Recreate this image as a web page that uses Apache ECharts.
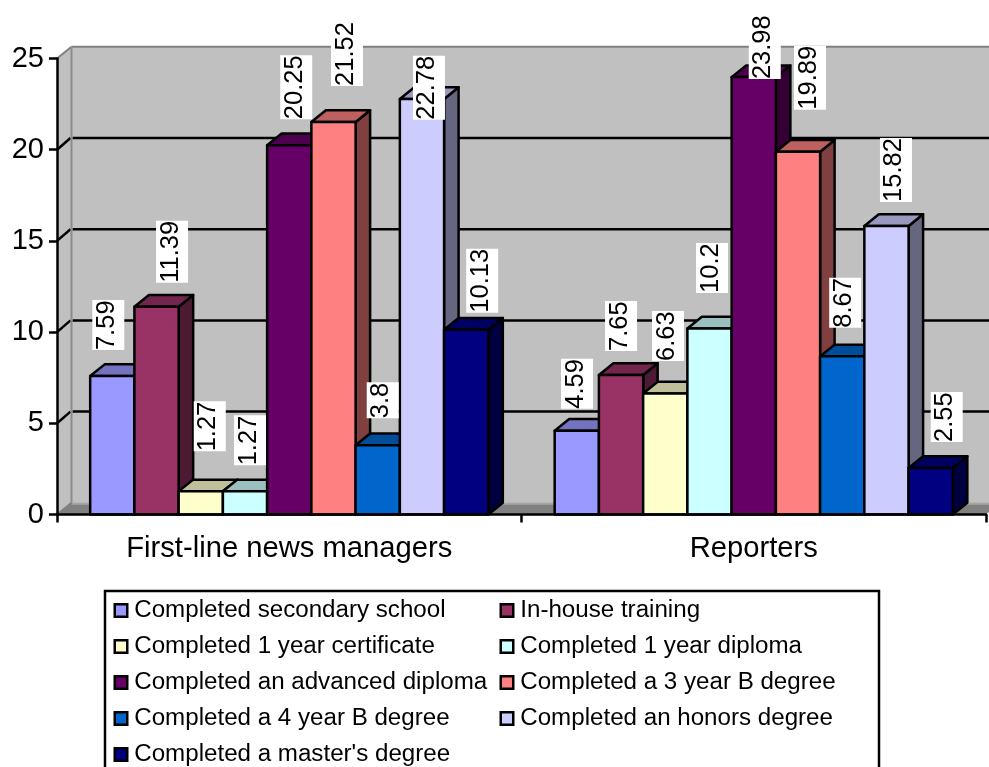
<!DOCTYPE html>
<html>
<head>
<meta charset="utf-8">
<style>html,body{margin:0;padding:0;background:#fff}#chart{width:989px;height:767px}</style>
<script src="https://cdn.jsdelivr.net/npm/echarts@6/dist/echarts.min.js"></script>
</head>
<body>
<div id="chart"></div>
<script>
// Qualification levels by newsroom role
const categories = ['First-line news managers', 'Reporters'];
const seriesNames = [
  'Completed secondary school', 'In-house training', 'Completed 1 year certificate',
  'Completed 1 year diploma', 'Completed an advanced diploma', 'Completed a 3 year B degree',
  'Completed a 4 year B degree', 'Completed an honors degree', "Completed a master's degree"
];
const firstLineManagers = [7.59, 11.39, 1.27, 1.27, 20.25, 21.52, 3.8, 22.78, 10.13];
const reporters = [4.59, 7.65, 6.63, 10.2, 23.98, 19.89, 8.67, 15.82, 2.55];
const valueTicks = [5, 10, 15, 20];

const seriesColors = ['#9999FF', '#993366', '#FFFFCC', '#CCFFFF', '#660066', '#FF8080', '#0066CC', '#CCCCFF', '#000080'];

// Hand-placed value labels: [shift right of the bar centre, lift above the bar's front top]
const labelPlacement = [
  [[-4, 26], [15.5, 24], [9, 40], [5, 26], [7, 26], [13.5, 36], [5, 27], [7, -20.7], [16, 17]],
  [[0.2, 22], [0, 24], [2.7, 32.6], [2.5, 35.5], [11, -2], [12, 42], [3, 28.7], [9.5, 24], [16, 26]]
];

const valuesByCategory = [firstLineManagers, reporters];
const FONT = '"Liberation Sans", Arial, sans-serif';
const LABEL_FONT = '25.5px ' + FONT;
const LABEL_BOX_WIDTH = 32;
const DEPTH_X = 14.5;
const DEPTH_Y = 11.7;
const GAP_RATIO = 1.5;   // gap between clusters, in bar widths
const INK = 2.5;         // weight of the black outlines, gridlines and axes

const measureCtx = document.createElement('canvas').getContext('2d');
function labelLength(text) {
  measureCtx.font = LABEL_FONT;
  return Math.ceil(measureCtx.measureText(text).width);
}

function shade(hex, f) {
  const n = parseInt(hex.slice(1), 16);
  const c = [n >> 16, (n >> 8) & 255, n & 255].map(v => Math.round(v * f));
  return 'rgb(' + c.join(',') + ')';
}

// Side wall, back wall and floor of the box
function renderBox(params, api) {
  const g = params.coordSys;
  const l = g.x, t = g.y, b = g.y + g.height, r = g.x + g.width;
  const bl = l + DEPTH_X, bt = t - DEPTH_Y, bb = b - DEPTH_Y, br = r + DEPTH_X;
  const edge = '#808080';
  return {
    type: 'group',
    children: [
      { type: 'rect', shape: { x: bl, y: bt, width: br - bl, height: bb - bt }, style: { fill: '#C0C0C0' } },
      { type: 'polygon', shape: { points: [[l, t], [bl, bt], [bl, bb], [l, b]] }, style: { fill: '#C0C0C0' } },
      { type: 'polygon', shape: { points: [[l, b], [bl, bb], [br, bb], [r, b]] }, style: { fill: '#808080' } },
      { type: 'line', shape: { x1: bl, y1: bb + 1, x2: br, y2: bb + 1 }, style: { stroke: '#A6A6A6', lineWidth: 2 } },
      { type: 'line', shape: { x1: bl, y1: bt, x2: br, y2: bt }, style: { stroke: edge, lineWidth: 2 } },
      { type: 'line', shape: { x1: l, y1: t, x2: bl, y2: bt }, style: { stroke: edge, lineWidth: 2 } },
      { type: 'line', shape: { x1: l, y1: b, x2: bl, y2: bb }, style: { stroke: edge, lineWidth: 2 } }
    ]
  };
}

// One gridline: a slanted stretch on the side wall, then straight across the back wall
function renderGridline(params, api) {
  const g = params.coordSys;
  const y = api.coord([0, api.value(0)])[1];
  const l = g.x, bl = l + DEPTH_X, br = g.x + g.width + DEPTH_X;
  const style = { stroke: '#000', lineWidth: INK };
  return {
    type: 'group',
    children: [
      { type: 'line', shape: { x1: l, y1: y, x2: bl - 1, y2: y - DEPTH_Y }, style },
      { type: 'line', shape: { x1: bl + 1, y1: y - DEPTH_Y, x2: br, y2: y - DEPTH_Y }, style }
    ]
  };
}

// The back-left corner post sits above the gridlines
function renderCorner(params, api) {
  const g = params.coordSys;
  const x = g.x + DEPTH_X;
  return {
    type: 'line',
    shape: { x1: x, y1: g.y - DEPTH_Y, x2: x, y2: g.y + g.height - DEPTH_Y },
    style: { stroke: '#8C8C8C', lineWidth: 2 }
  };
}

// A bar with front, top and side faces, plus its upright value label on a white plate
function makeBarRenderer(index) {
  const color = seriesColors[index];
  return function (params, api) {
    const k = api.value(0), v = api.value(1);
    const band = api.size([1, 0])[0];
    const bw = band / (seriesNames.length + GAP_RATIO);
    const x0 = api.coord([k, 0])[0] - band / 2 + bw * GAP_RATIO / 2 + index * bw;
    const x1 = x0 + bw;
    const yBase = api.coord([k, 0])[1];
    const yTop = api.coord([k, v])[1];
    const line = { stroke: '#000', lineWidth: INK, lineJoin: 'round' };
    const place = labelPlacement[k][index];
    const text = String(v);
    const plateLength = labelLength(text);
    const labelX = (x0 + x1) / 2 + place[0];
    const labelBottom = yTop - place[1];
    return {
      type: 'group',
      children: [
        { type: 'polygon',
          shape: { points: [[x1, yBase], [x1 + DEPTH_X, yBase - DEPTH_Y], [x1 + DEPTH_X, yTop - DEPTH_Y], [x1, yTop]] },
          style: Object.assign({ fill: shade(color, 0.5) }, line) },
        { type: 'polygon',
          shape: { points: [[x0, yTop], [x0 + DEPTH_X, yTop - DEPTH_Y], [x1 + DEPTH_X, yTop - DEPTH_Y], [x1, yTop]] },
          style: Object.assign({ fill: shade(color, 0.75) }, line) },
        { type: 'rect',
          shape: { x: x0, y: yTop, width: bw, height: yBase - yTop },
          style: Object.assign({ fill: color }, line) },
        { type: 'rect',
          z2: 100,
          shape: { x: labelX - LABEL_BOX_WIDTH / 2, y: labelBottom - plateLength, width: LABEL_BOX_WIDTH, height: plateLength },
          style: { fill: '#fff' } },
        { type: 'text',
          z2: 101,
          x: labelX - 1.5,
          y: labelBottom,
          rotation: Math.PI / 2,
          style: {
            text,
            font: LABEL_FONT,
            fill: '#000',
            align: 'left',
            verticalAlign: 'middle'
          } }
      ]
    };
  };
}

const barSeries = seriesNames.map((name, i) => ({
  type: 'custom',
  name,
  z: 3,
  coordinateSystem: 'cartesian2d',
  itemStyle: { color: seriesColors[i] },
  encode: { x: 0, y: 1 },
  data: categories.map((c, k) => [k, valuesByCategory[k][i]]),
  renderItem: makeBarRenderer(i)
}));

const backdrop = [
  { type: 'custom', z: 1, silent: true, data: [[0, 0]], encode: { x: 0, y: 1 }, renderItem: renderBox },
  { type: 'custom', z: 2, silent: true, data: valueTicks.map(v => [v]), encode: { y: 0 }, renderItem: renderGridline },
  { type: 'custom', z: 2, silent: true, data: [[0, 0]], encode: { x: 0, y: 1 }, renderItem: renderCorner }
];

function legendColumn(names, left) {
  return {
    data: names,
    orient: 'vertical',
    left,
    top: 597,
    height: 200,
    padding: 0,
    itemWidth: 12.5,
    itemHeight: 12.5,
    itemGap: 9,
    selectedMode: false,
    icon: 'rect',
    itemStyle: { borderColor: '#000', borderWidth: 2.5 },
    textStyle: { fontFamily: FONT, fontSize: 24.15, color: '#000', lineHeight: 27, height: 27, padding: [0, 0, 0, 2] }
  };
}

const chart = echarts.init(document.getElementById('chart'), null, { renderer: 'canvas' });
chart.setOption({
  animation: false,
  backgroundColor: '#fff',
  grid: { left: 57, top: 58.5, width: 929, height: 456, containLabel: false },
  xAxis: {
    type: 'category',
    data: categories,
    z: 10,
    axisLine: { lineStyle: { color: '#000', width: INK } },
    axisTick: { show: true, alignWithLabel: false, length: 8, lineStyle: { color: '#000', width: INK } },
    axisLabel: { color: '#000', fontFamily: FONT, fontSize: 29.2, margin: 20 },
    splitLine: { show: false }
  },
  yAxis: {
    type: 'value',
    min: 0,
    max: 25,
    interval: 5,
    z: 10,
    axisLine: { show: true, lineStyle: { color: '#000', width: INK } },
    axisTick: { show: true, length: 8, lineStyle: { color: '#000', width: INK } },
    axisLabel: { color: '#000', fontFamily: FONT, fontSize: 29, margin: 13 },
    splitLine: { show: false }
  },
  legend: [
    legendColumn(seriesNames.filter((n, i) => i % 2 === 0), 113.5),
    legendColumn(seriesNames.filter((n, i) => i % 2 === 1), 499.5)
  ],
  graphic: [{
    type: 'rect',
    z: 0,
    silent: true,
    shape: { x: 105, y: 591, width: 774, height: 190 },
    style: { fill: '#fff', stroke: '#000', lineWidth: 2.5 }
  }],
  series: backdrop.concat(barSeries)
});
</script>
</body>
</html>
